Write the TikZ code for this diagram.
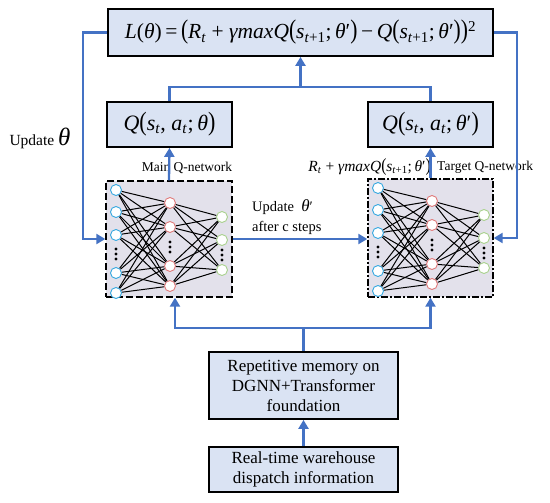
\documentclass[tikz,border=0pt]{standalone}
\usepackage{fontspec}
\setmainfont{Liberation Serif}
\usetikzlibrary{arrows.meta}
\definecolor{lblue}{HTML}{4472C4}
\definecolor{boxfill}{HTML}{DAE3F3}
\definecolor{netfill}{HTML}{E3E1EB}
\definecolor{cin}{HTML}{35A8E0}
\definecolor{chid}{HTML}{E07A7A}
\definecolor{cout}{HTML}{A9D18E}
\tikzset{
  box/.style={draw=black, line width=1.8pt, fill=boxfill, inner sep=0pt, align=center},
  netbox/.style={draw=black, line width=1.4pt, fill=netfill, inner sep=0pt},
  link/.style={draw=lblue, line width=2.3pt},
  arr/.style={link, -{Triangle[width=10pt,length=9pt]}},
  neu/.style={circle, draw, fill=white, line width=0.9pt, minimum size=11pt, inner sep=0pt},
  conn/.style={line width=1pt, black},
  lbl/.style={font=\fontsize{13.5}{15}\selectfont, inner sep=0pt}
}
\newcommand\mynet[3]{%
  \begin{scope}[shift={(#2,#3)}]
    \foreach \yy [count=\i] in {9,31,54,92,112} \node[neu, draw=cin] (#1i\i) at (10,\yy) {};
    \foreach \yy [count=\i] in {22,46,85,105} \node[neu, draw=chid] (#1h\i) at (64,\yy) {};
    \foreach \yy [count=\i] in {36,59,89} \node[neu, draw=cout] (#1o\i) at (116,\yy) {};
    \foreach \a in {1,...,5} \foreach \b in {1,...,4} \draw[conn] (#1i\a) -- (#1h\b);
    \foreach \a in {1,...,4} \foreach \b in {1,...,3} \draw[conn] (#1h\a) -- (#1o\b);
    \foreach \yy in {68,73,78} \fill (10,\yy) circle (1.6pt);
    \foreach \yy in {61,66,71} \fill (64,\yy) circle (1.6pt);
    \foreach \yy in {69,74,79} \fill (116,\yy) circle (1.6pt);
  \end{scope}}
\begin{document}
\begin{tikzpicture}[x=1pt,y=-1pt]
\useasboundingbox (0,0) rectangle (550,503);
\fill[white] (0,0) rectangle (550,503);
% boxes
\node[box, minimum width=385pt, minimum height=47pt, font=\fontsize{21.5}{24}\selectfont] (top) at (300.5,32.5)
 {\textit{L}(\textit{θ})\,=\,\scalebox{1}[1.25]{(}\textit{R}\textsubscript{\textit{t}} + \textit{γmaxQ}\scalebox{1}[1.25]{(}\textit{s}\textsubscript{\textit{t}+1};\,\textit{θ}′\scalebox{1}[1.25]{)}\,−\,\textit{Q}\scalebox{1}[1.25]{(}\textit{s}\textsubscript{\textit{t}+1};\,\textit{θ}′\scalebox{1}[1.25]{)}\scalebox{1}[1.25]{)}\textsuperscript{2}};
\node[box, minimum width=125pt, minimum height=45pt, font=\fontsize{22}{24}\selectfont] (qL) at (169.5,124.5)
 {\textit{Q}\scalebox{1}[1.2]{(}\textit{s}\textsubscript{\textit{t}}, \textit{a}\textsubscript{\textit{t}};\,\textit{θ}\scalebox{1}[1.2]{)}};
\node[box, minimum width=125pt, minimum height=45pt, font=\fontsize{22}{24}\selectfont] (qR) at (430.5,124.5)
 {\textit{Q}\scalebox{1}[1.2]{(}\textit{s}\textsubscript{\textit{t}}, \textit{a}\textsubscript{\textit{t}};\,\textit{θ}′\scalebox{1}[1.2]{)}};
\node[netbox, dash pattern=on 7pt off 3pt, minimum width=126pt, minimum height=116pt] (netL) at (169,239) {};
\node[netbox, dash pattern=on 7pt off 2pt on 2pt off 2pt, minimum width=125pt, minimum height=118pt] (netR) at (430.5,238) {};
\mynet{L}{106}{181}
\mynet{R}{368}{179}
\node[box, minimum width=189pt, minimum height=67pt, font=\fontsize{17}{20}\selectfont] (mem) at (303.5,385.5)
 {Repetitive memory on\\DGNN+Transformer\\foundation};
\node[box, minimum width=189pt, minimum height=45pt, font=\fontsize{17}{20}\selectfont] (info) at (303.5,469.5)
 {Real-time warehouse\\dispatch information};
% labels
\node[lbl] (mainlbl) at (187,168) {Main Q-network};
\node[lbl, anchor=east, font=\fontsize{15.5}{17}\selectfont] (tgtexpr) at (431,167)
 {\textit{R}\textsubscript{\textit{t}} + \textit{γmaxQ}\scalebox{1}[1.2]{(}\textit{s}\textsubscript{\textit{t}+1};\,\textit{θ}′\scalebox{1}[1.2]{)}};
\node[lbl, anchor=west] (tgtlbl) at (437,167) {Target Q-network};
\node[lbl, anchor=west, align=left, font=\fontsize{14.5}{20}\selectfont] (upd) at (252,217)
 {Update \ \textit{\fontsize{17}{20}\selectfont θ}′\\after c steps};
\node[lbl, font=\fontsize{15.5}{17}\selectfont] (updL) at (40,138) {Update \textit{\fontsize{25}{25}\selectfont θ}};
% connectors
\coordinate (j) at (300.5,87);
\coordinate (k) at (303.5,328);
\coordinate (lt) at (83,32.5);
\coordinate (rt) at (517,32.5);
\draw[arr] (top.west) -- (lt) |- (netL.west);
\draw[arr] (top.east) -- (rt) |- (netR.east);
\draw[link] (qL.north) |- (j) -| (qR.north);
\draw[arr] (j) -- (top.south);
\draw[arr] (netL.north) -- (qL.south);
\draw[arr] (netR.north) -- (qR.south);
\draw[arr] (netL.east) -- (netL.east -| netR.west);
\draw[link] (mem.north) -- (k);
\draw[arr] (k) -| ([xshift=6pt]netL.south);
\draw[arr] (k) -| (netR.south);
\draw[arr] (info.north) -- (mem.south);
\end{tikzpicture}
\end{document}
